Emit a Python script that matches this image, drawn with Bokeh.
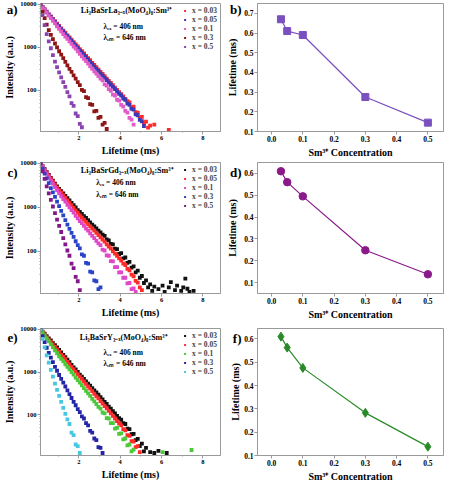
import numpy as np
from bokeh.plotting import figure
from bokeh.layouts import gridplot
from bokeh.models import (Range1d, FixedTicker, NumeralTickFormatter, Label, Legend, LegendItem,
                          LogAxis, LinearAxis)
from bokeh.embed import file_html
from bokeh.resources import INLINE

# ---------------- data (log10 of intensity, sampled every 0.1 ms from 0.15 ms) ----------------
T_START = 0.15
T_STEP = 0.1
nan = float("nan")

conc_labels = ["x = 0.03", "x = 0.05", "x = 0.1", "x = 0.3", "x = 0.5"]

# panel a) Li3BaSrLa3-x(MoO4)8:Sm3+
a_x003 = [4.00, 3.94, 3.89, 3.83, 3.77, 3.72, 3.66, 3.61, 3.55, 3.50, 3.44, 3.39, 3.34, 3.28, 3.23, 3.18, 3.12,
          3.07, 3.02, 2.96, 2.91, 2.86, 2.80, 2.75, 2.70, 2.64, 2.59, 2.54, 2.48, 2.43, 2.38, 2.33, 2.27, 2.22,
          2.17, 2.12, 2.06, 2.01, 1.96, 1.91, 1.86, 1.80, 1.75, 1.72, 1.60, 1.62, 1.49, 1.48, 1.36, 1.38, 1.24,
          1.27, 1.13, 1.18, nan, 1.20, nan, nan, nan, nan, nan, nan, 1.08]
a_x005 = [4.00, 3.94, 3.88, 3.82, 3.76, 3.71, 3.65, 3.59, 3.53, 3.48, 3.42, 3.37, 3.31, 3.26, 3.21, 3.15, 3.10,
          3.04, 2.99, 2.93, 2.88, 2.83, 2.77, 2.72, 2.66, 2.61, 2.55, 2.50, 2.45, 2.39, 2.34, 2.29, 2.24, 2.18,
          2.13, 2.08, 2.03, 1.97, 1.92, 1.88, 1.81, 1.78, 1.69, 1.66, 1.57, 1.55, 1.44, 1.42, 1.31, 1.28, 1.17]
a_x01 = [4.00, 3.93, 3.87, 3.81, 3.74, 3.68, 3.62, 3.56, 3.49, 3.43, 3.37, 3.31, 3.25, 3.20, 3.14, 3.08, 3.02,
         2.97, 2.91, 2.85, 2.79, 2.73, 2.68, 2.62, 2.56, 2.50, 2.44, 2.39, 2.33, 2.27, 2.23, 2.14, 2.11, 2.03,
         1.99, 1.90, 1.88, 1.78, 1.76, 1.66, 1.62, 1.52, 1.48, 1.36, 1.32, 1.20]
a_x03 = [4.00, 3.83, 3.68, 3.53, 3.40, 3.29, 3.19, 3.09, 3.00, 2.91, 2.83, 2.75, 2.66, 2.58, 2.50, 2.43, 2.35,
         2.27, 2.19, 2.12, 2.01, 1.98, 1.84, 1.82, 1.68, 1.66, 1.51, 1.52, 1.36, 1.38, 1.20, 1.24, 1.10]
a_x05 = [4.00, 3.75, 3.52, 3.31, 3.14, 2.98, 2.82, 2.67, 2.54, 2.42, 2.30, 2.19, 2.08, 1.96, 1.86, 1.70, 1.64,
         1.46, 1.40, 1.22, 1.14]

# panel c) Li3BaSrGd3-x(MoO4)8:Sm3+
c_x003 = [4.00, 3.93, 3.87, 3.80, 3.74, 3.67, 3.61, 3.54, 3.48, 3.42, 3.37, 3.32, 3.26, 3.21, 3.16, 3.10, 3.05,
          3.00, 2.94, 2.90, 2.85, 2.80, 2.76, 2.71, 2.66, 2.61, 2.57, 2.52, 2.47, 2.43, 2.38, 2.35, 2.27, 2.25,
          2.17, 2.16, 2.06, 2.05, 1.94, 1.96, 1.84, 1.86, 1.74, 1.76, 1.63, 1.66, 1.52, 1.56, 1.40, 1.44, 1.28,
          1.34, 1.18, 1.25, 1.10, 1.20, nan, 1.14, nan, 1.22, 1.08, nan, 1.18, 1.30, nan, 1.12, 1.22, nan, 1.10,
          1.18, 1.38, 1.15, 1.08, nan, 1.10]
c_x005 = [4.00, 3.93, 3.86, 3.79, 3.73, 3.66, 3.59, 3.52, 3.45, 3.39, 3.34, 3.28, 3.22, 3.16, 3.11, 3.05, 2.99,
          2.93, 2.88, 2.82, 2.77, 2.72, 2.67, 2.62, 2.57, 2.52, 2.47, 2.42, 2.37, 2.32, 2.27, 2.22, 2.16, 2.11,
          2.06, 2.00, 1.95, 1.90, 1.84, 1.79, 1.72, 1.69, 1.60, 1.57, 1.47, 1.43, 1.33, 1.29, 1.18, 1.12]
c_x01 = [4.00, 3.92, 3.84, 3.77, 3.69, 3.61, 3.54, 3.46, 3.39, 3.32, 3.25, 3.19, 3.13, 3.06, 3.00, 2.94, 2.88,
         2.81, 2.75, 2.69, 2.64, 2.58, 2.52, 2.47, 2.41, 2.35, 2.30, 2.24, 2.18, 2.14, 2.04, 2.02, 1.91, 1.90,
         1.78, 1.77, 1.64, 1.64, 1.52, 1.52, 1.40, 1.40, 1.27, 1.28, 1.14, 1.16, 1.08]
c_x03 = [4.00, 3.88, 3.77, 3.66, 3.55, 3.44, 3.34, 3.24, 3.13, 3.03, 2.92, 2.82, 2.71, 2.61, 2.51, 2.42, 2.33,
         2.23, 2.14, 2.07, 1.93, 1.90, 1.74, 1.72, 1.54, 1.52, 1.34, 1.32, 1.14, 1.18]
c_x05 = [4.00, 3.82, 3.65, 3.48, 3.32, 3.17, 3.02, 2.87, 2.72, 2.58, 2.44, 2.30, 2.16, 2.02, 1.90, 1.72, 1.62,
         1.42, 1.32, 1.12]

# panel e) Li3BaSrY3-x(MoO4)8:Sm3+
e_x003 = [4.00, 3.95, 3.90, 3.84, 3.79, 3.74, 3.68, 3.63, 3.58, 3.52, 3.46, 3.40, 3.35, 3.29, 3.23, 3.17, 3.11,
          3.06, 3.00, 2.94, 2.89, 2.84, 2.78, 2.73, 2.68, 2.62, 2.57, 2.52, 2.47, 2.41, 2.36, 2.30, 2.25, 2.19,
          2.14, 2.08, 2.03, 1.97, 1.92, 1.88, 1.80, 1.78, 1.67, 1.66, 1.54, 1.55, 1.40, 1.43, 1.26, 1.32, 1.14,
          1.22, nan, 1.12, nan, 1.10, nan, 1.15, nan, nan, nan, 1.10]
e_x005 = [4.00, 3.94, 3.88, 3.82, 3.76, 3.71, 3.65, 3.59, 3.53, 3.47, 3.41, 3.36, 3.30, 3.24, 3.18, 3.12, 3.07,
          3.01, 2.95, 2.89, 2.84, 2.78, 2.72, 2.66, 2.61, 2.55, 2.49, 2.43, 2.38, 2.32, 2.26, 2.20, 2.15, 2.09,
          2.03, 1.97, 1.91, 1.85, 1.79, 1.75, 1.66, 1.63, 1.52, 1.50, 1.38, 1.37, 1.24, 1.26, 1.12]
e_x01 = [4.00, 3.93, 3.86, 3.79, 3.72, 3.65, 3.58, 3.51, 3.44, 3.37, 3.31, 3.25, 3.18, 3.12, 3.06, 3.00, 2.94,
         2.87, 2.81, 2.75, 2.69, 2.62, 2.56, 2.50, 2.44, 2.37, 2.31, 2.25, 2.18, 2.14, 2.05, 2.03, 1.92, 1.91,
         1.80, 1.80, 1.67, 1.69, 1.55, 1.56, 1.42, 1.44, 1.28, 1.30, 1.14, 1.18,
         nan, nan, nan, nan, nan, nan, nan, nan, nan, nan, nan, nan, nan, 1.12,
         nan, nan, nan, nan, nan, nan, nan, nan, nan, nan, nan, nan, nan, 1.17]
e_x03 = [4.00, 3.84, 3.70, 3.57, 3.45, 3.34, 3.23, 3.12, 3.03, 2.93, 2.84, 2.75, 2.66, 2.57, 2.48, 2.39, 2.30,
         2.22, 2.13, 2.06, 1.96, 1.91, 1.80, 1.75, 1.62, 1.58, 1.44, 1.40, 1.24, 1.22, 1.10]
e_x05 = [4.00, 3.78, 3.58, 3.39, 3.22, 3.05, 2.89, 2.73, 2.58, 2.44, 2.30, 2.16, 2.02, 1.89, 1.78, 1.58, 1.52,
         1.30, 1.26, 1.10]

# lifetime vs Sm3+ concentration
sm_conc = [0.03, 0.05, 0.1, 0.3, 0.5]
life_b = [0.67, 0.61, 0.59, 0.275, 0.145]
life_d = [0.61, 0.56, 0.495, 0.248, 0.138]
life_f = [0.61, 0.563, 0.476, 0.283, 0.138]

decay_ticks = [2, 4, 6, 8]
decay_minor = [1, 3, 5, 7]
log_ticks = [100, 1000, 10000]
log_minor = [20, 30, 40, 50, 60, 70, 80, 90, 200, 300, 400, 500, 600, 700, 800, 900,
             2000, 3000, 4000, 5000, 6000, 7000, 8000, 9000]
conc_ticks = [0.0, 0.1, 0.2, 0.3, 0.4, 0.5]

# ---------------- styling helpers ----------------
SERIF = "Liberation Serif"
AX = "#9a9a9a"


def style_axis(ax, tick_size, label_size):
    ax.axis_line_color = AX
    ax.major_tick_line_color = AX
    ax.minor_tick_line_color = AX
    ax.major_tick_out = 3
    ax.major_tick_in = 0
    ax.minor_tick_out = 1
    ax.minor_tick_in = 0
    ax.major_label_text_font = SERIF
    ax.major_label_text_font_style = "bold"
    ax.major_label_text_font_size = tick_size
    ax.major_label_text_color = "black"
    ax.major_label_standoff = 1
    ax.axis_label_text_font = SERIF
    ax.axis_label_text_font_style = "bold"
    ax.axis_label_text_font_size = label_size
    ax.axis_label_text_color = "black"
    ax.axis_label_standoff = 2


def style_fig(p, tick_size, label_size):
    p.outline_line_color = AX
    p.outline_line_width = 1
    p.grid.visible = False
    p.background_fill_color = "white"
    p.border_fill_color = "white"
    for ax in p.axis:
        style_axis(ax, tick_size, label_size)


def letter_axis(axis_cls, yval, letter, ylabel):
    """Outer left axis: carries the panel letter (as a tick label) and the y-axis title."""
    ax = axis_cls(ticker=FixedTicker(ticks=[yval]), major_label_overrides={yval: letter})
    style_axis(ax, "13px", "10px")
    ax.axis_line_alpha = 0
    ax.major_tick_line_alpha = 0
    ax.minor_tick_line_alpha = 0
    ax.major_tick_out = 0
    ax.major_label_standoff = 0
    ax.axis_label = ylabel
    try:
        ax.axis_label_standoff = -11
    except Exception:
        ax.axis_label_standoff = 0
    return ax


def add_text(p, x, y, text, size):
    p.add_layout(Label(x=x, y=y, text=text, text_font=SERIF, text_font_style="bold",
                       text_font_size=size, text_color="black", text_align="left",
                       text_baseline="middle"))


def decay_panel(letter, letter_y, series, colors, formula, fpos, lpos, height, top, bottom):
    p = figure(width=222, height=height, y_axis_type="log", output_backend="svg",
               toolbar_location=None, x_range=Range1d(0.15, 8.85), y_range=Range1d(11, 10500),
               min_border_left=34, min_border_right=2, min_border_top=top, min_border_bottom=bottom)
    items = []
    for vals, col, lab in zip(series, colors, conc_labels):
        logv = np.array(vals, dtype=float)
        t = np.round(T_START + T_STEP * np.arange(len(logv)), 2)
        r = p.scatter(t, 10 ** logv, marker="square", size=3.8, color=col, line_width=0)
        items.append(LegendItem(label=lab, renderers=[r]))
    leg = Legend(items=items, location="top_right", margin=2, padding=1, spacing=0,
                 glyph_width=5, glyph_height=5, label_height=1, label_standoff=5,
                 label_text_font=SERIF, label_text_font_style="bold", label_text_font_size="7.5px",
                 background_fill_alpha=0, border_line_alpha=0)
    p.add_layout(leg)
    p.xaxis.ticker = FixedTicker(ticks=decay_ticks, minor_ticks=decay_minor)
    p.yaxis.ticker = FixedTicker(ticks=log_ticks, minor_ticks=log_minor)
    p.yaxis.formatter = NumeralTickFormatter(format="0")
    p.xaxis.axis_label = "Lifetime (ms)"
    style_fig(p, "6.5px", "10px")
    p.add_layout(letter_axis(LogAxis, letter_y, letter, "Intensity (a.u.)"), "left")
    add_text(p, fpos[0], fpos[1], formula, "8px")
    add_text(p, lpos[0], lpos[1], "λₑₓ = 406 nm", "7.5px")
    add_text(p, lpos[0], lpos[2], "λₑₘ = 646 nm", "7.5px")
    return p


def lifetime_panel(letter, letter_y, vals, color, marker, msize, yr, yticks, height, top, bottom):
    p = figure(width=222, height=height, output_backend="svg", toolbar_location=None,
               x_range=Range1d(-0.045, 0.55), y_range=Range1d(*yr),
               min_border_left=35, min_border_right=1, min_border_top=top, min_border_bottom=bottom)
    p.line(sm_conc, vals, color=color, line_width=1.2)
    p.scatter(sm_conc, vals, marker=marker, size=msize, color=color)
    p.xaxis.ticker = FixedTicker(ticks=conc_ticks)
    p.yaxis.ticker = FixedTicker(ticks=yticks)
    p.xaxis.formatter = NumeralTickFormatter(format="0.0")
    p.yaxis.formatter = NumeralTickFormatter(format="0.0")
    p.xaxis.axis_label = "Sm³⁺ Concentration"
    style_fig(p, "7.5px", "10px")
    p.add_layout(letter_axis(LinearAxis, letter_y, letter, "Lifetime (ms)"), "left")
    return p


pa = decay_panel("a)", 9000, [a_x003, a_x005, a_x01, a_x03, a_x05],
                 ["#ff2a2a", "#3a3ab8", "#e25cc8", "#8e1616", "#8a44b0"],
                 "Li₃BaSrLa₃₋ₓ(MoO₄)₈:Sm³⁺", (2.1, 7200), (3.2, 3100, 1660), 160, 3, 26)
pc = decay_panel("c)", 6300, [c_x003, c_x005, c_x01, c_x03, c_x05],
                 ["#111111", "#ff2a2a", "#e048c8", "#2a44c8", "#84188a"],
                 "Li₃BaSrGd₃₋ₓ(MoO₄)₈:Sm³⁺", (2.1, 6900), (2.85, 3600, 1950), 162, 2, 25)
pe = decay_panel("e)", 6600, [e_x003, e_x005, e_x01, e_x03, e_x05],
                 ["#111111", "#ff2a2a", "#4cc83a", "#2424a8", "#48c8e0"],
                 "Li₃BaSrY₃₋ₓ(MoO₄)₈:Sm³⁺", (2.05, 6600), (3.2, 2900, 1620), 162, 6, 24)

pb = lifetime_panel("b)", 0.72, life_b, "#7a50c0", "square", 7, (0.1, 0.75),
                    [0.1, 0.2, 0.3, 0.4, 0.5, 0.6, 0.7], 160, 3, 26)
pd = lifetime_panel("d)", 0.606, life_d, "#8a1a8a", "circle", 7.5, (0.05, 0.65),
                    [0.1, 0.2, 0.3, 0.4, 0.5, 0.6], 162, 2, 25)
pf = lifetime_panel("f)", 0.604, life_f, "#2a8a2a", "diamond", 9, (0.1, 0.645),
                    [0.1, 0.2, 0.3, 0.4, 0.5, 0.6], 162, 6, 24)

grid = gridplot([[pa, pb], [pc, pd], [pe, pf]], toolbar_location=None)

open("out.html", "w").write(file_html(grid, INLINE))
